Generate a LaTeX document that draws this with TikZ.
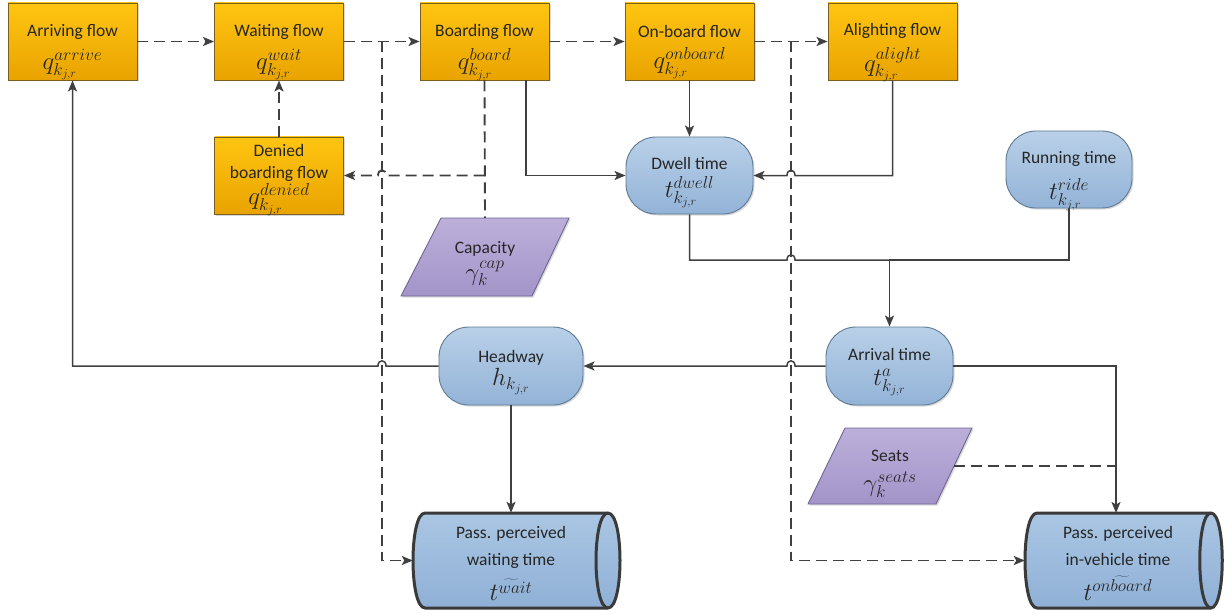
\documentclass[tikz,border=0pt]{standalone}
\usepackage{fontspec}
\setmainfont{Carlito}
\usetikzlibrary{arrows.meta,shadows,calc}
\definecolor{lc}{HTML}{404040}
\definecolor{txt}{HTML}{262626}
\definecolor{ot}{HTML}{FFC511}
\definecolor{ob}{HTML}{E9A300}
\definecolor{od}{HTML}{7A6020}
\definecolor{bt}{HTML}{B9D0E8}
\definecolor{bb}{HTML}{93B3D7}
\definecolor{bd}{HTML}{5F7A94}
\definecolor{pt}{HTML}{BCB0DA}
\definecolor{pb}{HTML}{A394C9}
\definecolor{pd}{HTML}{6F6592}
\definecolor{ct}{HTML}{AAC6E3}
\definecolor{cb}{HTML}{8FB0D6}
\definecolor{cyd}{HTML}{3A3A3A}
\newcommand\jumpL[2]{-- (#1+4,#2) .. controls (#1+4,#2-7) and (#1-4,#2-7) .. (#1-4,#2)}
\newcommand\jumpR[2]{-- (#1-4,#2) .. controls (#1-4,#2-7) and (#1+4,#2-7) .. (#1+4,#2)}
\newcommand\mth[1]{{\fontsize{23.5}{24}\selectfont$#1$}}
\begin{document}
\begin{tikzpicture}[x=1pt,y=-1pt,
  font=\fontsize{17.5}{21}\selectfont, text=txt,
  >={Stealth[length=11pt,width=9pt,inset=2.5pt]},
  shd/.style={drop shadow={shadow xshift=1.5pt,shadow yshift=-1.5pt,opacity=0.25,fill=black!60}},
  lt/.style={align=center,inner sep=0pt},
  obox/.style={rectangle,draw=od,line width=0.9pt,top color=ot,bottom color=ob,minimum width=129pt,minimum height=77pt,shd},
  bbox/.style={rectangle,rounded corners=30pt,draw=bd,line width=0.9pt,top color=bt,bottom color=bb,minimum height=77pt,shd},
  para/.style={draw=pd,line width=0.9pt,top color=pt,bottom color=pb,shd},
  cyl/.style={draw=cyd,line width=3pt,top color=ct,bottom color=cb,line join=round},
  cylb/.style={draw=cyd,line width=3pt},
  ctext/.style={align=center,inner sep=0pt,font=\fontsize{17.5}{27}\selectfont},
  sline/.style={draw=lc,line width=1.5pt},
  dline/.style={draw=lc,line width=1.9pt,dash pattern=on 11pt off 6pt}
]
\useasboundingbox (0,0) rectangle (1231,615);

% orange boxes
\node[obox,label={[lt,yshift=-11pt]center:{Arriving flow\\[8pt]\mth{q^{arrive}_{k_{j,r}}}}}] (arr) at (72.5,41.5) {};
\node[obox,label={[lt,yshift=-11pt]center:{Waiting flow\\[8pt]\mth{q^{wait}_{k_{j,r}}}}}] (wait) at (279,41.5) {};
\node[obox,label={[lt,yshift=-11pt]center:{Boarding flow\\[8pt]\mth{q^{board}_{k_{j,r}}}}}] (board) at (484.5,41.5) {};
\node[obox,label={[lt,yshift=-11pt]center:{On-board flow\\[8pt]\mth{q^{onboard}_{k_{j,r}}}}}] (onb) at (689.5,41.5) {};
\node[obox,label={[lt,yshift=-11pt]center:{Alighting flow\\[8pt]\mth{q^{alight}_{k_{j,r}}}}}] (ali) at (892.5,41.5) {};
\node[obox,label={[lt,yshift=-4.5pt,font=\fontsize{17.5}{22}\selectfont]center:{Denied\\boarding flow\\[1pt]\mth{q^{denied}_{k_{j,r}}}}}] (den) at (279,175.5) {};

% blue rounded nodes
\node[bbox,minimum width=127pt,label={[lt,yshift=-7.5pt]center:{Dwell time\\[5pt]\mth{t^{dwell}_{k_{j,r}}}}}] (dwell) at (689.5,175.5) {};
\node[bbox,minimum width=126pt,label={[lt,yshift=-11.5pt]center:{Running time\\[11pt]\mth{t^{ride}_{k_{j,r}}}}}] (run) at (1069,169.5) {};
\node[bbox,minimum width=144pt,minimum height=78pt,label={[lt,yshift=-6.5pt]center:{Headway\\[2pt]\mth{h_{k_{j,r}}}}}] (hw) at (511,366) {};
\node[bbox,minimum width=127pt,minimum height=78pt,label={[lt,yshift=-6pt]center:{Arrival time\\[4pt]\mth{t^{a}_{k_{j,r}}}}}] (arv) at (889.5,366) {};

% parallelograms
\path[para] (441,218) -- (569,218) -- (532,296) -- (401,296) -- cycle;
\node[lt,yshift=-6.5pt] (cap) at (485,257) {Capacity\\[4pt]\mth{\gamma^{cap}_k}};
\coordinate (captop) at (485,218);
\path[para] (845,428) -- (972,428) -- (936,504) -- (808,504) -- cycle;
\node[lt,yshift=-7.5pt] (seats) at (890,466) {Seats\\[9pt]\mth{\gamma^{seats}_k}};
\coordinate (seatsr) at (954,466);

% cylinders
\path[cyl] (425,513) -- (608,513) .. controls (624,513) and (624,608) .. (608,608) -- (425,608) .. controls (409,608) and (409,513) .. (425,513) -- cycle;
\draw[cylb] (608,513) .. controls (592,513) and (592,608) .. (608,608);
\node[ctext,minimum width=196pt,minimum height=95pt] (wc) at (511,560.5) {};
\node[ctext,yshift=-3pt] (wct) at (wc) {Pass. perceived\\waiting time\\[8pt]\mth{\widetilde{t^{wait}}}};

\path[cyl] (1037,513) -- (1211,513) .. controls (1226,513) and (1226,608) .. (1211,608) -- (1037,608) .. controls (1021,608) and (1021,513) .. (1037,513) -- cycle;
\draw[cylb] (1211,513) .. controls (1196,513) and (1196,608) .. (1211,608);
\node[ctext,minimum width=186pt,minimum height=95pt] (ivc) at (1118,560.5) {};
\node[ctext,yshift=-3pt] (ivct) at (ivc) {Pass. perceived\\in-vehicle time\\[8pt]\mth{t^{\widetilde{onboard}}}};

\coordinate (vL) at (382,41.5);
\coordinate (vR) at (791,41.5);
\coordinate (mrg) at (889.5,260);
\coordinate (ivx) at (1116,513);

% dashed connectors
\draw[dline,->] (arr.east) -- (wait.west);
\draw[dline,->] (wait.east) -- (board.west);
\draw[dline,->] (board.east) -- (onb.west);
\draw[dline,->] (onb.east) -- (ali.west);
\draw[dline,->] (den.north) -- (wait.south);
\draw[dline] (board.south) -- (captop);
\draw[dline,->] (board.south |- den.east) \jumpL{382}{175.5} -- (den.east);
\draw[dline,->] (vL) |- (wc.west);
\draw[dline,->] (vR) |- (ivc.west);
\draw[dline] (seatsr) -- (seatsr -| ivx);

% solid connectors
\draw[sline,->] ([xshift=41.5pt]board.south) |- (dwell.west);
\draw[sline,->] (onb.south) -- (dwell.north);
\draw[sline,->] (ali.south) -- (ali.south |- dwell.east) \jumpL{791}{175.5} -- (dwell.east);
\draw[sline] (dwell.south) -- (dwell.south |- mrg) \jumpR{791}{260} -- (mrg);
\draw[sline,->] (run.south) |- (mrg) -- (arv.north);
\draw[sline,->] (arv.west) \jumpL{791}{366} -- (hw.east);
\draw[sline,->] (hw.west) \jumpL{382}{366} -- (arr.south |- hw.west) -- (arr.south);
\draw[sline,->] (hw.south) -- (hw.south |- wc.north);
\draw[sline,->] (arv.east) -| (ivx);
\end{tikzpicture}
\end{document}
